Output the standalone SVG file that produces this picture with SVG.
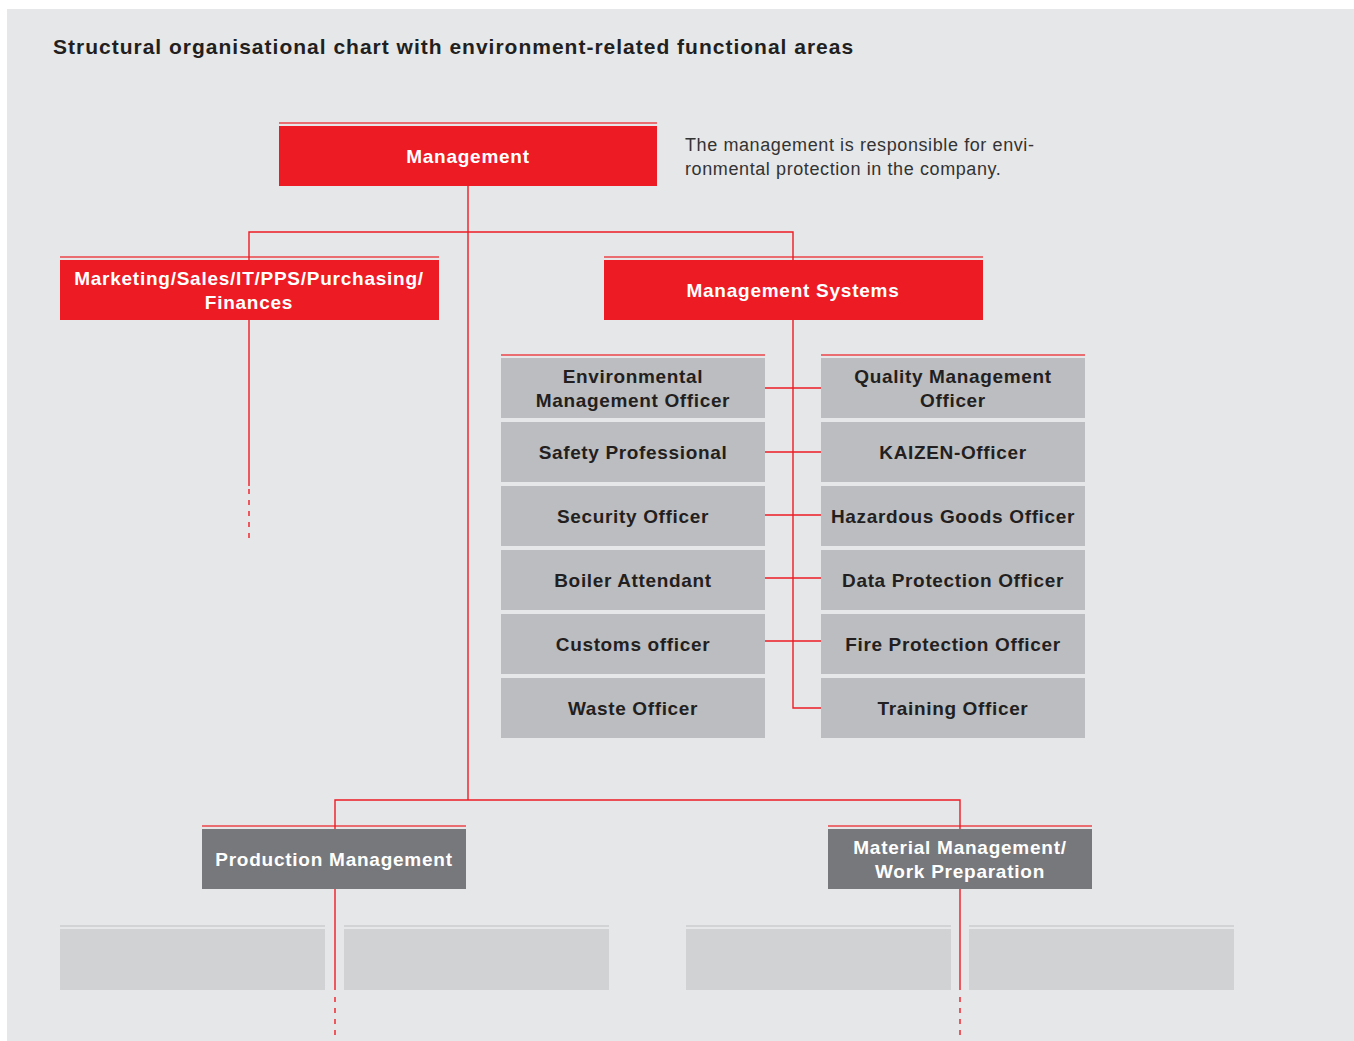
<svg xmlns="http://www.w3.org/2000/svg" width="1354" height="1041" viewBox="0 0 1354 1041">
  <style>
    .bg { fill: #e6e7e8; }
    .red { fill: #ed1c24; }
    .grey { fill: #bcbdc0; }
    .dark { fill: #77787b; }
    .pale { fill: #d1d2d4; }
    .redline { stroke: #ed1c24; stroke-width: 1.3; opacity: 0.8; }
    .paleline { stroke: #cbccce; stroke-width: 1.5; }
    .conn { fill: none; stroke: #ed1c24; stroke-width: 1.4; }
    .dash { stroke-dasharray: 5 6; }
    .title { font-family: "Liberation Sans", Arial, sans-serif; font-size: 21px; font-weight: bold; fill: #231f20; letter-spacing: 1px; }
    .note { font-family: "Liberation Sans", Arial, sans-serif; font-size: 18px; fill: #333333; letter-spacing: 0.6px; }
    .w { font-family: "Liberation Sans", Arial, sans-serif; font-size: 19px; font-weight: bold; fill: #ffffff; text-anchor: middle; letter-spacing: 0.75px; }
    .k { font-family: "Liberation Sans", Arial, sans-serif; font-size: 19px; font-weight: bold; fill: #231f20; text-anchor: middle; letter-spacing: 0.65px; }
  </style>

  <rect x="0" y="0" width="1354" height="1041" fill="#ffffff"/>
  <rect class="bg" x="7" y="9" width="1347" height="1032"/>

  <text class="title" x="53" y="54">Structural organisational chart with environment-related functional areas</text>
  <text class="note" x="685" y="151">The management is responsible for envi-</text>
  <text class="note" x="685" y="175">ronmental protection in the company.</text>

  <!-- connectors -->
  <g id="connectors">
    <path class="conn" d="M468 186 V800"/>
    <path class="conn" d="M249 260 V232 H793 V260"/>
    <path class="conn" d="M249 320 V486"/>
    <path class="conn dash" d="M249 489 V541"/>
    <path class="conn" d="M793 320 V708 H821"/>
    <path class="conn" d="M765 388 H821 M765 452 H821 M765 515 H821 M765 578 H821 M765 641 H821"/>
    <path class="conn" d="M335 829 V800 H960 V829"/>
    <path class="conn" d="M335 889 V990"/>
    <path class="conn dash" d="M335 997 V1041"/>
    <path class="conn" d="M960 889 V990"/>
    <path class="conn dash" d="M960 997 V1041"/>
  </g>

  <g id="management">
    <line class="redline" x1="279" y1="123" x2="657" y2="123"/>
    <rect class="red" x="279" y="126" width="378" height="60"/>
    <text class="w" x="468" y="163">Management</text>
  </g>

  <g id="marketing">
    <line class="redline" x1="60" y1="257" x2="439" y2="257"/>
    <rect class="red" x="60" y="260" width="379" height="60"/>
    <text class="w" x="249" y="285">Marketing/Sales/IT/PPS/Purchasing/</text>
    <text class="w" x="249" y="309">Finances</text>
  </g>

  <g id="management-systems">
    <line class="redline" x1="604" y1="257" x2="983" y2="257"/>
    <rect class="red" x="604" y="260" width="379" height="60"/>
    <text class="w" x="793" y="297">Management Systems</text>
  </g>

  <g id="env-officer">
    <line class="redline" x1="501" y1="355" x2="765" y2="355"/>
    <rect class="grey" x="501" y="358" width="264" height="60"/>
    <text class="k" x="633" y="383">Environmental</text>
    <text class="k" x="633" y="407">Management Officer</text>
  </g>
  <g id="quality-officer">
    <line class="redline" x1="821" y1="355" x2="1085" y2="355"/>
    <rect class="grey" x="821" y="358" width="264" height="60"/>
    <text class="k" x="953" y="383">Quality Management</text>
    <text class="k" x="953" y="407">Officer</text>
  </g>
  <g id="safety-professional">
    <rect class="grey" x="501" y="422" width="264" height="60"/>
    <text class="k" x="633" y="459">Safety Professional</text>
  </g>
  <g id="kaizen-officer">
    <rect class="grey" x="821" y="422" width="264" height="60"/>
    <text class="k" x="953" y="459">KAIZEN-Officer</text>
  </g>
  <g id="security-officer">
    <rect class="grey" x="501" y="486" width="264" height="60"/>
    <text class="k" x="633" y="523">Security Officer</text>
  </g>
  <g id="hazardous-goods-officer">
    <rect class="grey" x="821" y="486" width="264" height="60"/>
    <text class="k" x="953" y="523">Hazardous Goods Officer</text>
  </g>
  <g id="boiler-attendant">
    <rect class="grey" x="501" y="550" width="264" height="60"/>
    <text class="k" x="633" y="587">Boiler Attendant</text>
  </g>
  <g id="data-protection-officer">
    <rect class="grey" x="821" y="550" width="264" height="60"/>
    <text class="k" x="953" y="587">Data Protection Officer</text>
  </g>
  <g id="customs-officer">
    <rect class="grey" x="501" y="614" width="264" height="60"/>
    <text class="k" x="633" y="651">Customs officer</text>
  </g>
  <g id="fire-protection-officer">
    <rect class="grey" x="821" y="614" width="264" height="60"/>
    <text class="k" x="953" y="651">Fire Protection Officer</text>
  </g>
  <g id="waste-officer">
    <rect class="grey" x="501" y="678" width="264" height="60"/>
    <text class="k" x="633" y="715">Waste Officer</text>
  </g>
  <g id="training-officer">
    <rect class="grey" x="821" y="678" width="264" height="60"/>
    <text class="k" x="953" y="715">Training Officer</text>
  </g>

  <g id="production-management">
    <line class="redline" x1="202" y1="826" x2="466" y2="826"/>
    <rect class="dark" x="202" y="829" width="264" height="60"/>
    <text class="w" x="334" y="866">Production Management</text>
  </g>
  <g id="material-management">
    <line class="redline" x1="828" y1="826" x2="1092" y2="826"/>
    <rect class="dark" x="828" y="829" width="264" height="60"/>
    <text class="w" x="960" y="854">Material Management/</text>
    <text class="w" x="960" y="878">Work Preparation</text>
  </g>

  <g id="unit-1">
    <line class="paleline" x1="60" y1="926" x2="325" y2="926"/>
    <rect class="pale" x="60" y="929" width="265" height="61"/>
  </g>
  <g id="unit-2">
    <line class="paleline" x1="344" y1="926" x2="609" y2="926"/>
    <rect class="pale" x="344" y="929" width="265" height="61"/>
  </g>
  <g id="unit-3">
    <line class="paleline" x1="686" y1="926" x2="951" y2="926"/>
    <rect class="pale" x="686" y="929" width="265" height="61"/>
  </g>
  <g id="unit-4">
    <line class="paleline" x1="969" y1="926" x2="1234" y2="926"/>
    <rect class="pale" x="969" y="929" width="265" height="61"/>
  </g>
</svg>
